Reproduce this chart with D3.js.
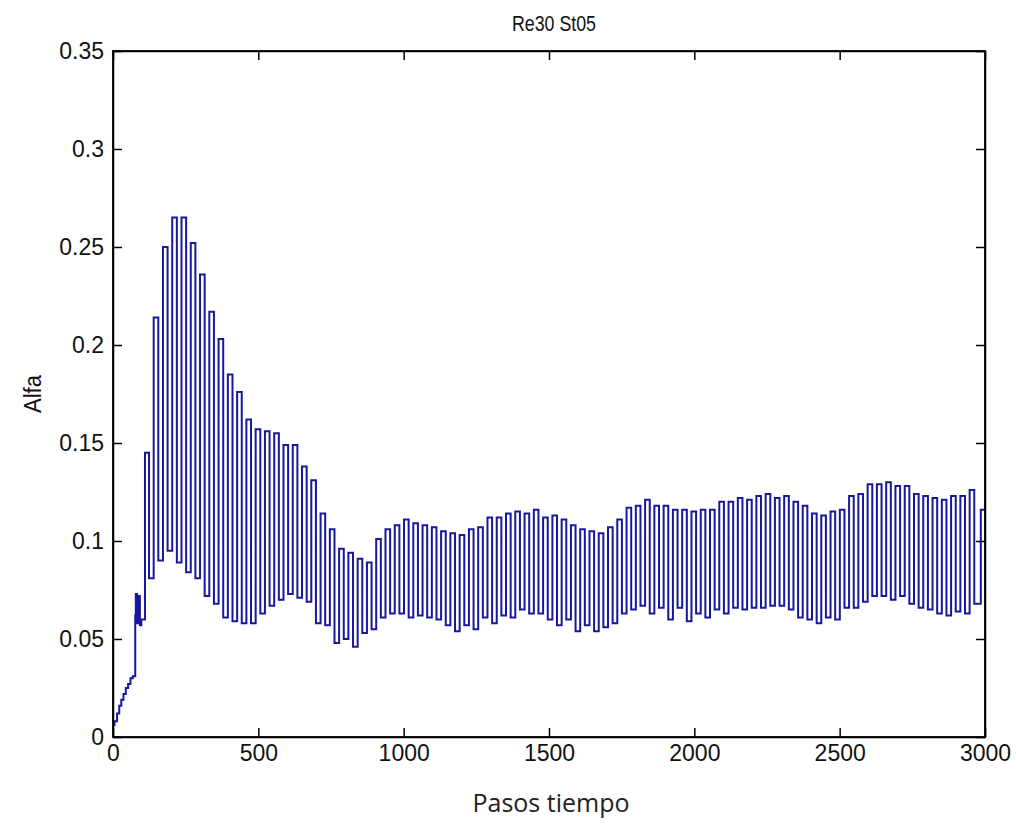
<!DOCTYPE html>
<html lang="en">
<head>
    <meta charset="UTF-8">
    <title>Re30 St05</title>
    <script src="https://d3js.org/d3.v7.min.js"></script>
    <style>
        body { margin: 0; background: #fff; }
        .tick text { font-family: "Liberation Sans", Arial, sans-serif; font-size: 23px; fill: #111; }
    </style>
</head>
<body>
    <svg id="chart" width="1016" height="829"></svg>

    <script>
        // start-up ramp before the oscillation settles in
        const rampSteps  = [0, 10, 18, 25, 32, 40, 48, 56, 64, 72, 76, 77, 80, 86, 90, 95, 100, 104];
        const rampValues = [0.006, 0.008, 0.012, 0.016, 0.019, 0.022, 0.025, 0.027, 0.030, 0.031, 0.031, 0.062, 0.073, 0.058, 0.072, 0.057, 0.060, 0.060];

        // one peak and one trough per oscillation cycle
        const cycleStart = 116;
        const cyclePeriod = 31.9;
        const peaks = [
            0.145, 0.214, 0.250, 0.265, 0.265, 0.252, 0.236, 0.217, 0.203, 0.185,
            0.176, 0.162, 0.157, 0.156, 0.155, 0.149, 0.149, 0.138, 0.131, 0.114,
            0.106, 0.096, 0.094, 0.091, 0.089, 0.101, 0.106, 0.108, 0.111, 0.109,
            0.108, 0.107, 0.105, 0.104, 0.103, 0.106, 0.107, 0.112, 0.112, 0.114,
            0.115, 0.114, 0.116, 0.112, 0.113, 0.111, 0.108, 0.106, 0.105, 0.104,
            0.107, 0.111, 0.117, 0.118, 0.121, 0.118, 0.118, 0.116, 0.116, 0.115,
            0.116, 0.116, 0.120, 0.120, 0.122, 0.121, 0.123, 0.124, 0.122, 0.123,
            0.120, 0.118, 0.114, 0.113, 0.115, 0.116, 0.123, 0.124, 0.129, 0.129,
            0.130, 0.128, 0.128, 0.124, 0.123, 0.122, 0.121, 0.123, 0.123, 0.126
        ];
        const troughs = [
            0.081, 0.090, 0.095, 0.089, 0.084, 0.081, 0.072, 0.068, 0.061, 0.059,
            0.058, 0.058, 0.063, 0.067, 0.070, 0.073, 0.071, 0.069, 0.058, 0.057,
            0.048, 0.050, 0.046, 0.053, 0.055, 0.061, 0.063, 0.063, 0.061, 0.062,
            0.061, 0.060, 0.057, 0.054, 0.057, 0.055, 0.061, 0.058, 0.062, 0.061,
            0.065, 0.063, 0.063, 0.060, 0.057, 0.060, 0.054, 0.057, 0.054, 0.056,
            0.058, 0.063, 0.065, 0.067, 0.063, 0.066, 0.060, 0.066, 0.059, 0.063,
            0.061, 0.065, 0.063, 0.066, 0.065, 0.066, 0.066, 0.067, 0.067, 0.065,
            0.061, 0.060, 0.058, 0.061, 0.060, 0.066, 0.066, 0.069, 0.072, 0.072,
            0.070, 0.072, 0.068, 0.066, 0.065, 0.063, 0.062, 0.064, 0.063, 0.068
        ];
        const endStep = 3000, endValue = 0.116;

        const xTicks = [0, 500, 1000, 1500, 2000, 2500, 3000];
        const yTicks = [0, 0.05, 0.1, 0.15, 0.2, 0.25, 0.3, 0.35];
        const yTickLabels = ["0", "0.05", "0.1", "0.15", "0.2", "0.25", "0.3", "0.35"];

        const svg = d3.select("#chart");
        const plotLeft = 113, plotRight = 985, plotTop = 51, plotBottom = 737;

        const x = d3.scaleLinear().domain([0, 3000]).range([plotLeft, plotRight]);
        const y = d3.scaleLinear().domain([0, 0.35]).range([plotBottom, plotTop]);

        const points = rampSteps.map((s, i) => [s, rampValues[i]]);
        peaks.forEach((p, i) => {
            points.push([cycleStart + i * cyclePeriod, p]);
            points.push([cycleStart + (i + 0.5) * cyclePeriod, troughs[i]]);
        });
        points.push([endStep, endValue]);

        svg.append("path")
            .datum(points)
            .attr("fill", "none")
            .attr("stroke", "#18189a")
            .attr("stroke-width", 2)
            .attr("d", d3.line()
                .x(d => x(d[0]))
                .y(d => y(d[1]))
                .curve(d3.curveStep));

        // MATLAB style box with inward ticks on all four sides
        const tick = 9;
        svg.append("g")
            .attr("transform", `translate(0,${plotBottom})`)
            .call(d3.axisBottom(x).tickValues(xTicks).tickSizeInner(-tick).tickSizeOuter(0).tickPadding(8).tickFormat(d3.format("d")));
        svg.append("g")
            .attr("transform", `translate(0,${plotTop})`)
            .call(d3.axisTop(x).tickValues(xTicks).tickSizeInner(-tick).tickSizeOuter(0).tickFormat(""));
        svg.append("g")
            .attr("transform", `translate(${plotLeft},0)`)
            .call(d3.axisLeft(y).tickValues(yTicks).tickSizeInner(-tick).tickSizeOuter(0).tickPadding(9)
                .tickFormat((d, i) => yTickLabels[i]));
        svg.append("g")
            .attr("transform", `translate(${plotRight},0)`)
            .call(d3.axisRight(y).tickValues(yTicks).tickSizeInner(-tick).tickSizeOuter(0).tickFormat(""));

        svg.selectAll(".domain, .tick line").attr("stroke", "#000").attr("stroke-width", 1.5);

        svg.append("rect")
            .attr("x", plotLeft).attr("y", plotTop)
            .attr("width", plotRight - plotLeft).attr("height", plotBottom - plotTop)
            .attr("fill", "none").attr("stroke", "#000").attr("stroke-width", 1.8);

        svg.append("text")
            .attr("x", (plotLeft + plotRight) / 2 + 5).attr("y", 31)
            .attr("text-anchor", "middle")
            .attr("textLength", 84)
            .attr("lengthAdjust", "spacingAndGlyphs")
            .style("font-family", "'Liberation Sans', Arial, sans-serif")
            .style("font-size", "22px")
            .style("fill", "#111")
            .text("Re30 St05");

        svg.append("text")
            .attr("transform", `translate(41,${(plotTop + plotBottom) / 2}) rotate(-90)`)
            .attr("text-anchor", "middle")
            .attr("textLength", 38)
            .attr("lengthAdjust", "spacingAndGlyphs")
            .style("font-family", "'Liberation Sans', Arial, sans-serif")
            .style("font-size", "23px")
            .style("fill", "#111")
            .text("Alfa");

        svg.append("text")
            .attr("x", (plotLeft + plotRight) / 2 + 2).attr("y", 812)
            .attr("text-anchor", "middle")
            .style("font-family", "'Open Sans', sans-serif")
            .style("font-size", "25px")
            .style("fill", "#222")
            .text("Pasos tiempo");
    </script>
</body>
</html>
